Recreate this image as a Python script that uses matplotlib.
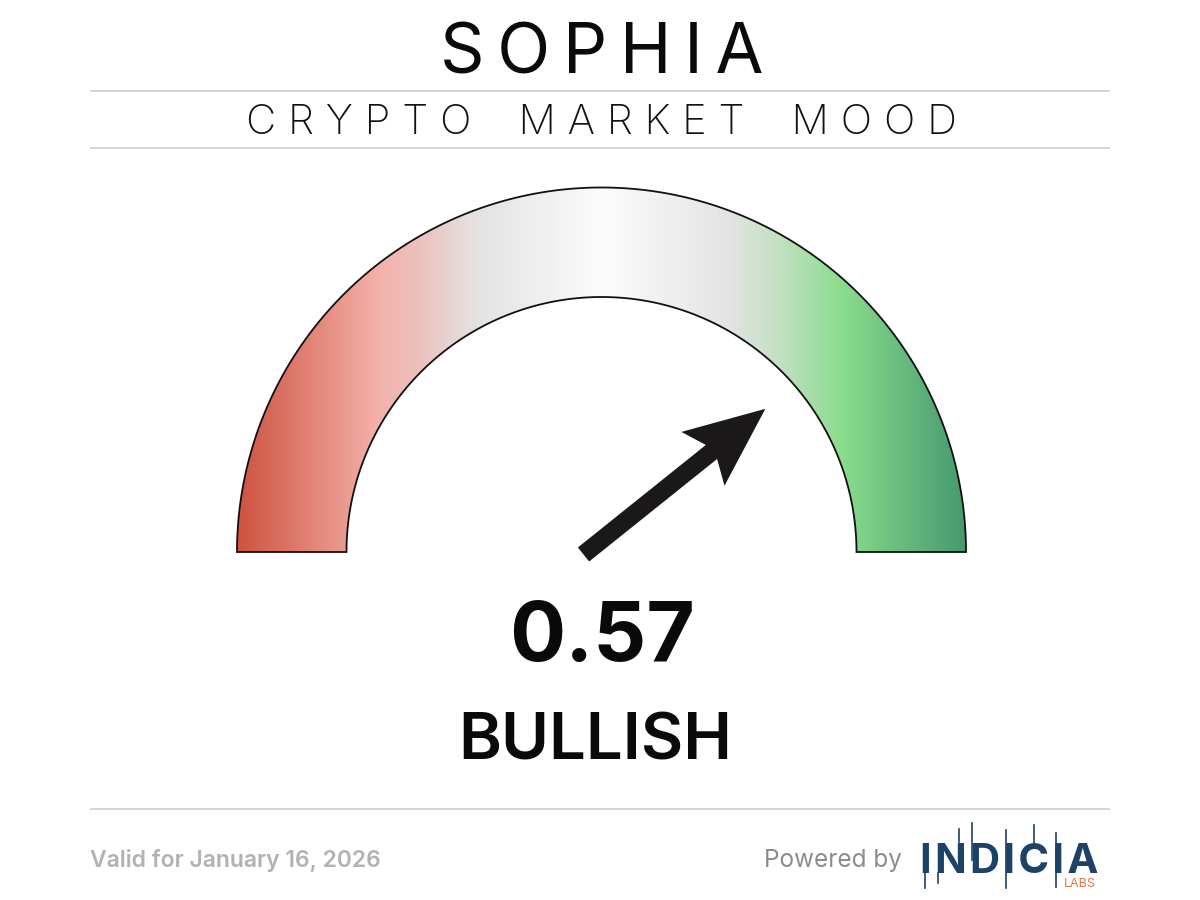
import matplotlib
matplotlib.use("Agg")
import matplotlib.pyplot as plt
import numpy as np
from matplotlib.colors import LinearSegmentedColormap
from matplotlib.patches import PathPatch, Polygon
from matplotlib.path import Path

plt.rcParams['font.family'] = ['Inter', 'DejaVu Sans']

title = "SOPHIA"
subtitle = "CRYPTO MARKET MOOD"
mood_value = 0.57
mood_label = "BULLISH"
valid_text = "Valid for January 16, 2026"
powered_text = "Powered by"
logo_name = "INDICIA"
logo_sub = "LABS"

# gauge runs from -1 (left) to +1 (right)
gauge_min = -1
gauge_max = 1

fig = plt.figure(figsize=(12, 9), dpi=100)
ax = fig.add_axes([0, 0, 1, 1])
ax.set_xlim(0, 1200)
ax.set_ylim(900, 0)
ax.axis("off")

# header and footer rules
for y in [91, 148, 809]:
    ax.plot([90, 1110], [y, y], color="#c9c9c9", lw=1.1, solid_capstyle="butt")

# no letter spacing in matplotlib, so pad with thin spaces
ax.text(602, 48, "\u2009".join(title), fontsize=50, ha="center", va="center_baseline", color="#0a0a0a")
ax.text(601, 119, " ".join(subtitle).replace("   ", "    "), fontsize=30, ha="center", va="center_baseline", color="#111111", fontweight="light")

# gauge
cx, cy = 601.5, 552
r_out, r_in = 364.5, 255
theta = np.linspace(np.pi, 0, 300)
verts = np.vstack([
    np.column_stack([cx + r_out*np.cos(theta), cy - r_out*np.sin(theta)]),
    np.column_stack([cx + r_in*np.cos(theta[::-1]), cy - r_in*np.sin(theta[::-1])]),
    [[cx - r_out, cy]],
])
codes = [Path.MOVETO] + [Path.LINETO]*(len(verts)-2) + [Path.CLOSEPOLY]
band = Path(verts, codes)

stops = [(237, "#cf5340"), (345, "#eb9c92"), (375, "#f3b0aa"), (425, "#ecc4c0"), (455, "#e6d8d6"), (482, "#e4e4e4"),
         (602, "#fcfcfc"), (728, "#e4e4e4"), (785, "#bfe0bf"), (845, "#89dc8b"), (900, "#6bbd80"), (966, "#469a6e")]
cmap = LinearSegmentedColormap.from_list("mood", [((x-237)/(966-237), c) for x, c in stops])
img = ax.imshow(np.linspace(0, 1, 730).reshape(1, -1), extent=[237, 966, cy, cy-r_out], cmap=cmap, aspect="auto", zorder=1)
outline = PathPatch(band, fc="none", ec="#111111", lw=1.3, zorder=2)
ax.add_patch(outline)
img.set_clip_path(PathPatch(band, transform=ax.transData))
ax.set_xlim(0, 1200)
ax.set_ylim(900, 0)

# needle angle comes from the value
ang = np.pi/2 - (mood_value - (gauge_min+gauge_max)/2)/((gauge_max-gauge_min)/2)*np.pi/2
tail = np.array([583.5, 554.5])
d = np.array([np.cos(ang), -np.sin(ang)])
n = np.array([np.sin(ang), np.cos(ang)])
L = 233
shaft_w = 9
notch = 164
back = 153
head_w = 34.5
arrow = [tail + n*shaft_w, tail + d*notch + n*shaft_w, tail + d*back + n*head_w, tail + d*L,
         tail + d*back - n*head_w, tail + d*notch - n*shaft_w, tail - n*shaft_w]
ax.add_patch(Polygon(arrow, closed=True, fc="#1a1819", ec="none", zorder=3))

ax.text(602, 630, f"{mood_value:.2f}", fontsize=60, fontweight="bold", ha="center", va="center_baseline", color="#0a0a0a")
ax.text(595.5, 736, mood_label, fontsize=47, fontweight="semibold", ha="center", va="center_baseline", color="#0a0a0a")

# footer
ax.text(90, 858, valid_text, fontsize=16.5, fontweight="semibold", ha="left", va="center_baseline", color="#b2b2b2")
ax.text(902, 858, powered_text, fontsize=17.5, ha="right", va="center_baseline", color="#8c8c8c")

# logo
ax.text(1009.5, 858, "\u200a".join(logo_name), fontsize=30, fontweight="bold", ha="center", va="center_baseline", color="#1d4268")
ax.text(1080, 882.5, logo_sub, fontsize=9, ha="center", va="center_baseline", color="#e0784a")
for x, y0, y1 in [(925, 873, 888), (938, 873, 883), (959, 829, 842), (972, 823, 860), (1006, 830, 888), (1034, 825, 843), (1056, 833, 887)]:
    ax.plot([x, x], [y0, y1], color="#1d4268", lw=1.2, zorder=4)

fig.savefig("out.png", dpi=100)
